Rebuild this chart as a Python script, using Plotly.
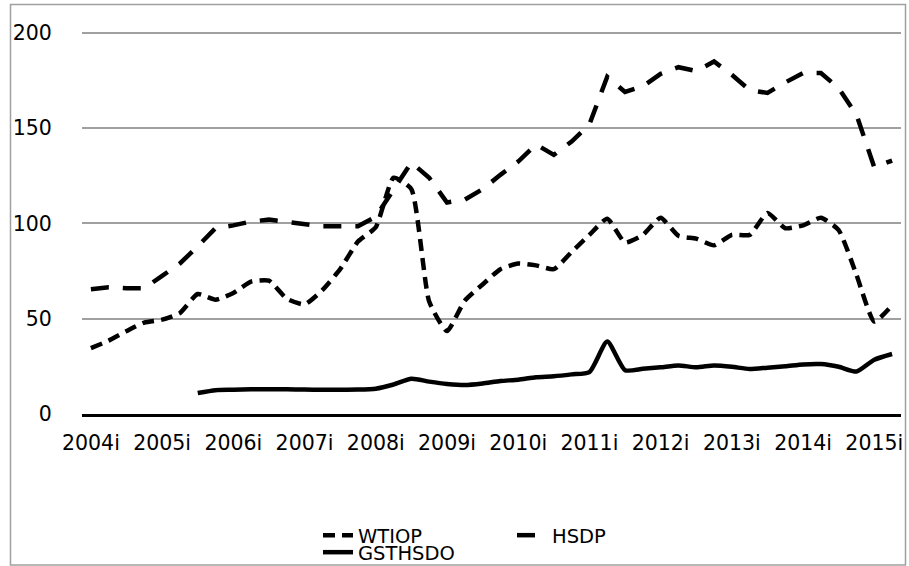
import plotly.graph_objects as go

# ---------------- data ----------------
years = list(range(2004, 2016))
quarter_suffix = ["i", "ii", "iii", "iv"]
categories = [f"{y}{q}" for y in years for q in quarter_suffix][:46]   # 2004i .. 2015ii
tick_labels = [f"{y}i" for y in years]

wtiop = [34.6, 38.5, 43.5, 48.0, 49.5, 53.0, 63.0, 60.0, 63.5, 69.5, 70.0, 60.5,
         57.5, 65.0, 76.0, 90.5, 98.0, 124.0, 118.0, 59.0, 43.5, 59.5, 68.0, 76.0,
         79.0, 78.0, 76.0, 85.0, 94.0, 102.5, 90.0, 94.0, 103.0, 93.5, 92.0, 88.5,
         94.0, 94.0, 105.5, 97.5, 99.0, 103.0, 96.5, 73.0, 48.5, 57.0]

hsdp = [65.5, 66.5, 66.0, 66.0, 72.5, 79.0, 88.0, 97.5, 99.0, 101.0, 102.0, 101.0,
        99.5, 98.5, 98.5, 98.5, 103.5, 118.0, 132.0, 124.0, 111.0, 112.5, 118.0, 125.5,
        132.5, 141.5, 136.0, 143.0, 152.0, 177.0, 169.0, 172.0, 178.5, 182.0, 180.0, 185.0,
        178.0, 170.0, 168.5, 174.0, 179.0, 179.0, 171.0, 157.0, 129.5, 133.0]

gsthsdo = [None, None, None, None, None, None,
           11.0, 12.5, 12.7, 13.0, 13.0, 13.0, 12.8, 12.7, 12.7, 12.8, 13.3, 15.5,
           18.5, 17.0, 15.8, 15.2, 16.0, 17.3, 18.0, 19.3, 19.8, 20.8, 22.0, 38.0,
           23.0, 23.7, 24.5, 25.5, 24.5, 25.5, 24.8, 23.6, 24.3, 25.0, 26.0, 26.2,
           24.8, 22.3, 28.5, 31.5]

y_ticks = [0, 50, 100, 150, 200]

# ---------------- figure ----------------
FONT = "DejaVu Sans"
fig = go.Figure()
fig.add_trace(go.Scatter(
    x=categories, y=wtiop, name="WTIOP", mode="lines", legend="legend",
    line=dict(color="black", width=4.5, dash="12px,7px", shape="spline", smoothing=0.5),
    hoverinfo="x+y+name"))
fig.add_trace(go.Scatter(
    x=categories, y=hsdp, name="HSDP", mode="lines", legend="legend",
    line=dict(color="black", width=4.5, dash="18px,14px"),
    hoverinfo="x+y+name"))
fig.add_trace(go.Scatter(
    x=categories, y=gsthsdo, name="GSTHSDO", mode="lines", legend="legend2",
    line=dict(color="black", width=4.5, shape="spline", smoothing=0.6),
    hoverinfo="x+y+name"))

L, R, T, B = 82, 8, 31, 152
W, H = 909, 566
pw, ph = W - L - R, H - T - B

def px_x(px):
    return (px - L) / pw

def px_y(py):
    return (H - B - py) / ph

def cont_y(py):
    return 1 - py / H

fig.update_layout(
    width=W, height=H,
    margin=dict(l=L, r=R, t=T, b=B, pad=0, autoexpand=False),
    paper_bgcolor="white", plot_bgcolor="white",
    font=dict(family=FONT, size=20.5, color="black"),
    xaxis=dict(
        type="category", categoryorder="array", categoryarray=categories,
        range=[-0.5, len(categories) - 0.5], automargin=False,
        tickmode="array", tickvals=tick_labels, ticktext=tick_labels,
        tickangle=0, showgrid=False, zeroline=False,
        showline=True, linecolor="black", linewidth=2.5,
        ticks="outside", ticklen=9, tickcolor="rgba(0,0,0,0)",
        tickfont=dict(family=FONT, size=20.5, color="black"),
    ),
    yaxis=dict(
        range=[0, 201], tickmode="array", tickvals=y_ticks, automargin=False,
        showgrid=True, gridcolor="#a0a0a0", gridwidth=2,
        zeroline=False, showline=False,
        ticks="outside", ticklen=25, tickcolor="rgba(0,0,0,0)",
        tickfont=dict(family=FONT, size=20.5, color="black"),
    ),
    legend=dict(
        orientation="h", xref="container", x=318 / W, xanchor="left",
        yref="container", y=cont_y(516), yanchor="top",
        bgcolor="rgba(0,0,0,0)", entrywidth=149, entrywidthmode="pixels",
        font=dict(family=FONT, size=19.5, color="black"),
    ),
    legend2=dict(
        orientation="h", xref="container", x=318 / W, xanchor="left",
        yref="container", y=cont_y(533), yanchor="top",
        bgcolor="rgba(0,0,0,0)",
        font=dict(family=FONT, size=19.5, color="black"),
    ),
    shapes=[dict(
        type="rect", xref="paper", yref="paper",
        x0=px_x(10.5), x1=px_x(905.5), y0=px_y(565), y1=px_y(4.5),
        line=dict(color="#a0a0a0", width=1.5), fillcolor="rgba(0,0,0,0)", layer="below",
    )],
)

fig.write_html(
    "out.html",
    config={"displayModeBar": False},
    post_script="document.body.style.margin='0px';document.body.style.padding='0px';"
                "document.documentElement.style.overflow='hidden';",
)
